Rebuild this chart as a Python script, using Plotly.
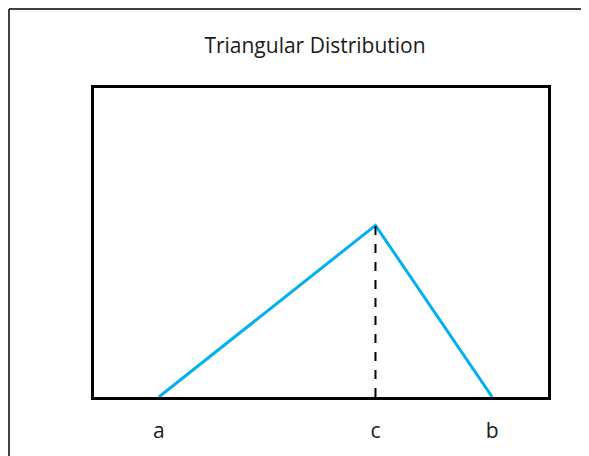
import plotly.graph_objects as go

# triangular distribution parameters
x_points = [1.0, 4.34, 6.14]   # a, c, b
y_points = [0.0, 1.0, 0.0]
tick_labels = ["a", "c", "b"]
mode_x = [4.34, 4.34]
mode_y = [0.0, 1.0]

# the page body adds an 8px margin, so the figure is a bit smaller
W, H = 581, 448
L, R, T, B = 86, 41, 80, 59
plot_w = W - L - R
plot_h = H - T - B

fig = go.Figure()

# blue triangle
fig.add_trace(go.Scatter(
    x=x_points,
    y=y_points,
    mode="lines",
    line=dict(color="#00B0F0", width=3),
    showlegend=False,
    hoverinfo="skip",
))

# dashed line at the mode
fig.add_trace(go.Scatter(
    x=mode_x,
    y=mode_y,
    mode="lines",
    line=dict(color="black", width=2, dash="dash"),
    showlegend=False,
    hoverinfo="skip",
))

# thin border round the picture (top and left only, like the reference)
top_y = (H - B - 1) / plot_h
left_x = (-L + 1) / plot_w
fig.add_shape(type="line", xref="paper", yref="paper",
              x0=left_x, x1=(W - L) / plot_w, y0=top_y, y1=top_y,
              line=dict(color="black", width=1.5))
fig.add_shape(type="line", xref="paper", yref="paper",
              x0=left_x, x1=left_x, y0=top_y, y1=-B / plot_h,
              line=dict(color="black", width=1.5))

fig.update_layout(
    width=W,
    height=H,
    margin=dict(l=L, r=R, t=T, b=B),
    paper_bgcolor="white",
    plot_bgcolor="white",
    font=dict(family="Open Sans", color="black"),
    title=dict(
        text="Triangular Distribution",
        x=(315 - 8) / W,
        xanchor="center",
        xref="container",
        y=1 - (46 - 8) / H,
        yanchor="middle",
        yref="container",
        font=dict(size=21, color="#1a1a1a"),
    ),
    xaxis=dict(
        range=[0, 7],
        showgrid=False,
        zeroline=False,
        showline=True,
        mirror=True,
        linecolor="black",
        linewidth=3,
        tickvals=x_points,
        ticktext=tick_labels,
        ticks="",
        ticklabelstandoff=13,
        tickfont=dict(size=21, color="#1a1a1a"),
        automargin=False,
    ),
    yaxis=dict(
        range=[0, 1.8],
        showgrid=False,
        zeroline=False,
        showline=True,
        mirror=True,
        linecolor="black",
        linewidth=3,
        showticklabels=False,
        ticks="",
        automargin=False,
    ),
)

fig.write_html("out.html")
